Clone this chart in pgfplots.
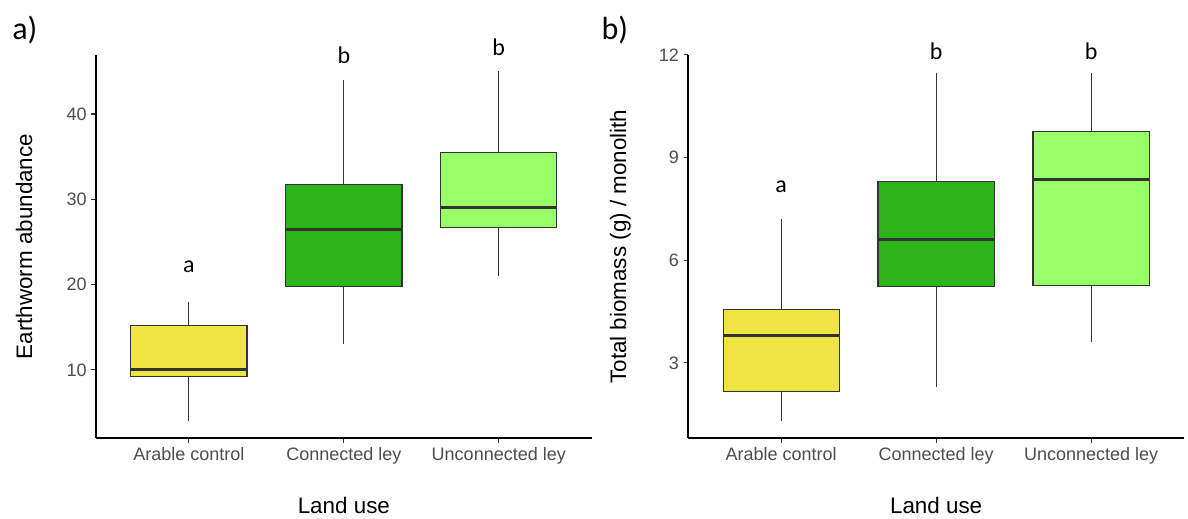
\documentclass[border=0pt]{standalone}
\usepackage{fontspec}
\setmainfont{Liberation Sans}
\newfontfamily\calib{Carlito}
\usepackage{pgfplots}
\pgfplotsset{compat=1.18}
\usepgfplotslibrary{statistics}

\definecolor{arable}{RGB}{239,228,66}
\definecolor{conn}{RGB}{44,181,26}
\definecolor{unconn}{RGB}{153,255,102}
\definecolor{edge}{RGB}{51,51,51}
\definecolor{ticktext}{RGB}{77,77,77}

\tikzset{
  sig/.style={font=\calib\fontsize{18}{20}\selectfont, anchor=center},
  panellabel/.style={font=\calib\fontsize{24}{26}\selectfont, anchor=base west, inner sep=0pt},
}

\pgfplotsset{
  panel/.style={
    scale only axis,
    width=371.8pt, height=287.5pt,
    anchor=south west,
    clip=false,
    axis x line*=bottom, axis y line*=left,
    axis line style={black, line width=1.2pt},
    xmin=0.4, xmax=3.6,
    xtick={1,2,3},
    xticklabels={Arable control, Connected ley, Unconnected ley},
    tick align=outside,
    major tick length=3.5pt,
    tick style={edge, line width=0.8pt},
    ticklabel style={font=\fontsize{13.5}{15}\selectfont, text=ticktext},
    /pgf/number format/assume math mode=true,
    label style={font=\fontsize{16.8}{19}\selectfont},
    xlabel={Land use},
    xlabel style={at={(axis description cs:0.5,-0.175)}, anchor=center},
    boxplot/draw direction=y,
    boxplot/box extend=0.75,
    boxplot/whisker extend=0,
    boxplot/every median/.style={line width=2.2pt},
    boxplot/every box/.style={line width=0.9pt},
    boxplot/every whisker/.style={line width=0.75pt},
  },
  grp/.style={draw=edge, solid, mark=none},
}

\begin{document}
\begin{tikzpicture}
\path (-72pt,-59pt) rectangle (819pt,328.7pt);

% a) earthworm abundance
\begin{axis}[panel, at={(0pt,0pt)},
    ymin=1.99, ymax=46.92, ytick={10,20,30,40},
    ylabel={Earthworm abundance},
    ylabel style={at={(axis description cs:-0.1452,0.5)}, anchor=center}]
  \addplot+[grp, fill=arable, boxplot prepared={draw position=1,
      lower whisker=4, lower quartile=9.2, median=10,
      upper quartile=15.24, upper whisker=18}] coordinates {};
  \addplot+[grp, fill=conn, boxplot prepared={draw position=2,
      lower whisker=13, lower quartile=19.77, median=26.5,
      upper quartile=31.72, upper whisker=44}] coordinates {};
  \addplot+[grp, fill=unconn, boxplot prepared={draw position=3,
      lower whisker=21, lower quartile=26.73, median=29.03,
      upper quartile=35.44, upper whisker=45}] coordinates {};
  \node[sig] at (axis cs:1,22.1) {a};
  \node[sig] at (axis cs:2,46.9) {b};
  \node[sig] at (axis cs:3,47.8) {b};
\end{axis}
\node[panellabel] at (-63pt,298.7pt) {a)};

% b) total biomass
\begin{axis}[panel, at={(444.2pt,0pt)},
    ymin=0.796, ymax=12.0, ytick={3,6,9,12},
    ylabel={Total biomass (g) / monolith},
    ylabel style={at={(axis description cs:-0.137,0.5)}, anchor=center}]
  \addplot+[grp, fill=arable, boxplot prepared={draw position=1,
      lower whisker=1.31, lower quartile=2.17, median=3.81,
      upper quartile=4.56, upper whisker=7.19}] coordinates {};
  \addplot+[grp, fill=conn, boxplot prepared={draw position=2,
      lower whisker=2.30, lower quartile=5.24, median=6.60,
      upper quartile=8.31, upper whisker=11.48}] coordinates {};
  \addplot+[grp, fill=unconn, boxplot prepared={draw position=3,
      lower whisker=3.61, lower quartile=5.27, median=8.35,
      upper quartile=9.76, upper whisker=11.48}] coordinates {};
  \node[sig] at (axis cs:1,8.15) {a};
  \node[sig] at (axis cs:2,12.12) {b};
  \node[sig] at (axis cs:3,12.12) {b};
\end{axis}
\node[panellabel] at (379pt,298.7pt) {b)};
\end{tikzpicture}
\end{document}
